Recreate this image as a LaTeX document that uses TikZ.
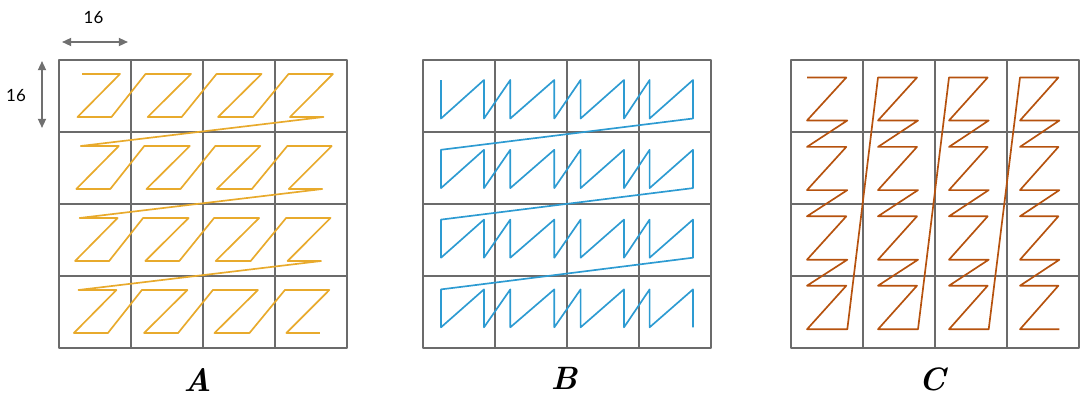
\documentclass[tikz,border=0pt]{standalone}
\usepackage{fontspec}
\newfontfamily\dimfont{Lato}
\usetikzlibrary{arrows.meta}
\definecolor{gridgrey}{HTML}{6B6B6B}
\definecolor{dimgrey}{HTML}{707070}
\definecolor{goldA}{HTML}{E8AA2C}
\definecolor{blueB}{HTML}{2D9BD2}
\definecolor{rustC}{HTML}{B6520E}
\newcommand{\cellgrid}{\foreach \i in {0,...,3} \foreach \j in {0,...,3} {\draw[gridline] (\i*72,\j*72) rectangle ++(72,72);}}

\begin{document}
\begin{tikzpicture}[x=0.025cm,y=-0.025cm,line join=round,
  gridline/.style={gridgrey, line width=0.5mm},
  curve/.style={line width=0.42mm},
  dimarrow/.style={dimgrey, line width=0.45mm, {Triangle[length=2.3mm,width=2mm]}-{Triangle[length=2.3mm,width=2mm]}},
  dimlabel/.style={inner sep=0, font=\dimfont\fontsize{12}{14}\selectfont},
  panellabel/.style={inner sep=0, font=\fontsize{23}{26}\selectfont\bfseries\itshape}]
  \useasboundingbox (0,0) rectangle (1080,402);
  \coordinate (hl) at (62,42); \coordinate (hr) at (128,42);
  \coordinate (vt) at (42,61); \coordinate (vb) at (42,128);
  \draw[dimarrow] (hl) -- (hr);
  \draw[dimarrow] (vt) -- (vb);
  \node[dimlabel] (dimH) at (93.5,18) {16};
  \node[dimlabel] (dimV) at (16,96) {16};
  \begin{scope}[shift={(58.5,59.5)}]
    \cellgrid
    \draw[curve, goldA] (23.5,14.5) \foreach \r in {0,...,3} { \foreach \c/\ta/\tb/\ba/\bb in {0/23.5/61.5/19/53,1/15/60.5/17.2/51.2,2/14/59/15.6/50.6,3/14/58.4/15.5/49} { -- ({\c*72+\ta-1.2*\r},{\r*72+14.5}) -- ({\c*72+\tb-1.2*\r},{\r*72+14.5}) -- ({\c*72+\ba-1.2*\r},{\r*72+57.5}) -- ({\c*72+\bb-1.2*\r},{\r*72+57.5}) } };
    \node[panellabel] (labA) at (139,320) {A};
  \end{scope}
  \begin{scope}[shift={(423,59.5)}]
    \cellgrid
    \draw[curve, blueB] (18,20.5) \foreach \r in {0,...,3} { \foreach \c/\lx/\rx in {0/18/61,1/15.3/59.3,2/13.6/57,3/10.6/54} { -- ({\c*72+\lx},{\r*69.8+20.5}) -- ({\c*72+\lx},{\r*69.6+59}) -- ({\c*72+\rx},{\r*69.8+20.5}) -- ({\c*72+\rx},{\r*69.6+59}) } };
    \node[panellabel] (labB) at (141,319) {B};
  \end{scope}
  \begin{scope}[shift={(791,59.5)}]
    \cellgrid
    \draw[curve, rustC] (16,18) \foreach \c in {0,...,3} { \foreach \r in {0,...,3} { -- ({\c*71+16},{\r*69.4+18}) -- ({\c*70.7+55.3},{\r*69.4+18}) -- ({\c*71+16},{\r*69.6+61}) -- ({\c*70.7+56.3},{\r*69.6+61}) } };
    \node[panellabel] (labC) at (141,320) {C};
  \end{scope}
\end{tikzpicture}
\end{document}
